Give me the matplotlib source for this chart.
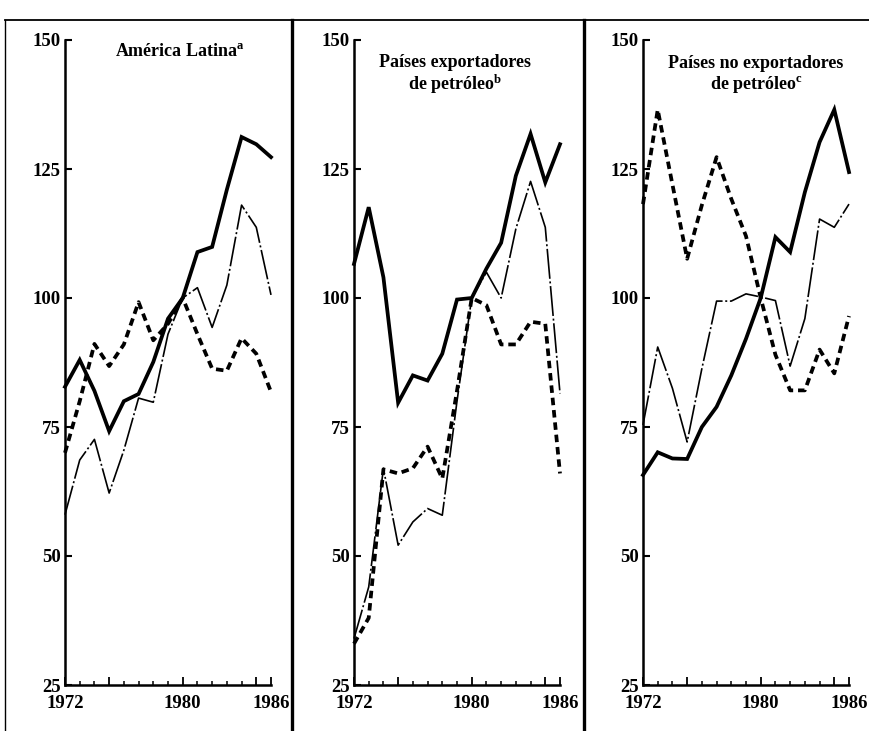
import matplotlib
matplotlib.use("Agg")
import matplotlib.pyplot as plt
from matplotlib.lines import Line2D
from matplotlib.ticker import FixedLocator, MultipleLocator

plt.rcParams["font.family"] = ["Liberation Serif", "DejaVu Serif"]
plt.rcParams["mathtext.fontset"] = "custom"
plt.rcParams["mathtext.rm"] = "Liberation Serif:bold"
plt.rcParams["mathtext.it"] = "Liberation Serif:italic:bold"
plt.rcParams["mathtext.bf"] = "Liberation Serif:bold"

years = list(range(1972, 1987))

# América Latina
al_solid = [82.8, 88.0, 82.0, 74.2, 80.0, 81.4, 87.6, 96.0, 100.0, 108.9, 109.9, 121.0, 131.2, 129.8, 127.3]
al_thin = [58.0, 68.6, 72.6, 62.2, 70.5, 80.6, 79.8, 93.0, 100.0, 102.0, 94.3, 102.5, 118.0, 113.7, 100.6]
al_dash = [70.0, 80.0, 91.1, 86.8, 91.0, 99.2, 91.8, 95.0, 100.0, 93.0, 86.3, 85.9, 92.2, 89.2, 81.8]

# Países exportadores de petróleo
ex_solid = [106.6, 117.6, 104.0, 79.7, 85.0, 84.0, 89.2, 99.7, 100.0, 105.7, 110.7, 123.7, 131.8, 122.4, 129.8]
ex_thin = [34.0, 44.0, 67.0, 52.1, 56.6, 59.2, 57.9, 80.0, 100.0, 105.0, 100.0, 113.4, 122.6, 113.7, 81.5]
ex_dash = [33.0, 38.0, 66.8, 66.0, 67.0, 71.2, 65.0, 82.0, 100.0, 98.6, 91.0, 91.0, 95.4, 95.0, 66.0]

# Países no exportadores de petróleo
nx_solid = [65.7, 70.1, 68.9, 68.8, 75.0, 78.9, 85.0, 92.1, 100.0, 111.8, 108.9, 120.5, 130.2, 136.5, 124.4]
nx_thin = [75.4, 90.5, 82.5, 72.1, 86.3, 99.4, 99.4, 100.8, 100.2, 99.5, 86.8, 96.0, 115.3, 113.7, 118.2]
nx_dash = [118.2, 136.5, 122.0, 107.6, 118.0, 127.3, 119.2, 112.0, 100.0, 89.0, 82.1, 82.1, 90.0, 85.4, 96.5]

titles = [
    "América Latina$^{\\mathrm{a}}$",
    "Países exportadores\nde petróleo$^{\\mathrm{b}}$",
    "Países no exportadores\nde petróleo$^{\\mathrm{c}}$",
]
panels = [
    (al_solid, al_thin, al_dash),
    (ex_solid, ex_thin, ex_dash),
    (nx_solid, nx_thin, nx_dash),
]
yticks = [25, 50, 75, 100, 125, 150]

W, H = 869, 731
fig = plt.figure(figsize=(W / 100, H / 100), dpi=100)
fig.patch.set_facecolor("white")

# panel geometry in pixels
lefts = [65, 354, 643]
pw = 206
top_px, bot_px = 40, 685
title_pos = [(180, 51), (455, 75), (756, 75)]

for i, (series, title) in enumerate(zip(panels, titles)):
    ax = fig.add_axes([lefts[i] / W, 1 - bot_px / H, pw / W, (bot_px - top_px) / H])
    solid, thin, dash = series
    ax.plot(years, thin, color="black", lw=1.2, ls=(0, (18, 1.6, 1.2, 1.6)),
            clip_on=False, zorder=3)
    ax.plot(years, dash, color="black", lw=2.7, ls=(0, (2.0, 1.3)),
            solid_capstyle="butt", clip_on=False, zorder=4)
    ax.plot(years, solid, color="black", lw=2.7, solid_joinstyle="miter",
            clip_on=False, zorder=5)

    ax.set_xlim(1972, 1986)
    ax.set_ylim(25, 150)
    for s in ("top", "right"):
        ax.spines[s].set_visible(False)
    for s in ("left", "bottom"):
        ax.spines[s].set_linewidth(1.8)
    ax.set_yticks(yticks)
    ax.set_yticklabels([str(v) for v in yticks], fontsize=13.5, fontweight="bold")
    ax.xaxis.set_major_locator(FixedLocator([1972, 1975, 1980, 1985, 1986]))
    ax.set_xticklabels(["1972", "", "1980", "", "1986"], fontsize=13.5, fontweight="bold")
    ax.xaxis.set_minor_locator(MultipleLocator(1))
    ax.tick_params(axis="y", direction="in", length=5, width=1.5, pad=3)
    ax.tick_params(axis="x", which="major", direction="in", length=6, width=1.3, pad=7)
    ax.tick_params(axis="x", which="minor", direction="in", length=3, width=1.1)
    ax.set_facecolor("none")

    tx, ty = title_pos[i]
    fig.text(tx / W, 1 - ty / H, title, ha="center", va="center",
             fontsize=13, fontweight="bold", linespacing=1.1)

# frame lines around the panels
def fline(x0, y0, x1, y1, lw):
    fig.add_artist(Line2D([x0 / W, x1 / W], [1 - y0 / H, 1 - y1 / H],
                          transform=fig.transFigure, color="black", lw=lw))

fline(5, 20, W, 20, 1.3)
fline(5, 20, 5, H, 1.0)
fline(292, 20, 292, H, 2.4)
fline(584, 20, 584, H, 2.4)

fig.savefig("out.png", dpi=100, facecolor="white")
